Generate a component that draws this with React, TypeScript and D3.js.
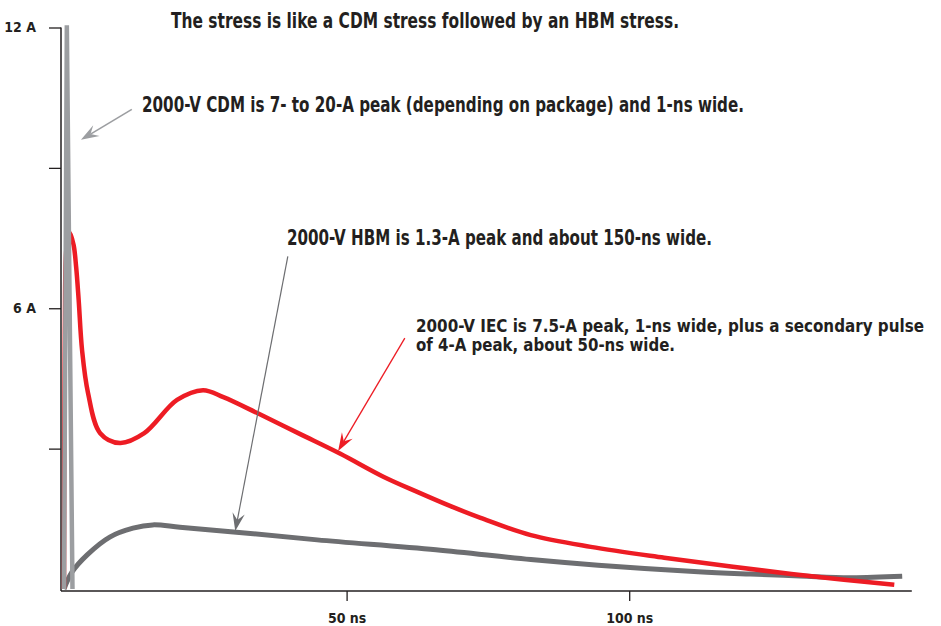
import React, { useEffect, useRef } from 'react';
import * as d3 from 'd3';

// IEC pulse (red), time in ns, current in A
const iecTime = [0, 0.15, 0.45, 1.0, 1.7, 2.15, 2.6, 3.2, 4.25, 6.4, 9.9, 14.2, 20, 24.6, 28.2, 34.2, 41.8, 48.9, 56.5, 62.6, 68.4, 73.7, 82.6, 93.2, 106.2, 118, 128.7, 138, 146.9];
const iecAmps = [0, 5.5, 7.3, 7.62, 7.35, 6.88, 6.17, 5.1, 4.19, 3.33, 3.12, 3.33, 4.04, 4.25, 4.1, 3.76, 3.31, 2.89, 2.4, 2.07, 1.77, 1.52, 1.15, 0.9, 0.67, 0.48, 0.32, 0.2, 0.09];

// HBM pulse (dark grey)
const hbmTime = [0, 1.4, 4.1, 8.1, 12.2, 15.7, 20.5, 30, 44.8, 65.8, 82.6, 94.5, 112.2, 121.4, 130.2, 139, 148.3];
const hbmAmps = [0, 0.36, 0.73, 1.11, 1.3, 1.37, 1.32, 1.22, 1.05, 0.84, 0.63, 0.51, 0.37, 0.32, 0.28, 0.24, 0.27];

// CDM spike (light grey)
const cdmTime = [0, 0.5, 1.5];
const cdmAmps = [0, 12.05, 0];

const yTicks = [3, 6, 9, 12];
const yTickLabels = ['', '6 A', '', '12 A'];
const xTicks = [50, 100];
const xTickLabels = ['50 ns', '100 ns'];

const title = 'The stress is like a CDM stress followed by an HBM stress.';
const cdmNote = '2000-V CDM is 7- to 20-A peak (depending on package) and 1-ns wide.';
const hbmNote = '2000-V HBM is 1.3-A peak and about 150-ns wide.';
const iecNote = ['2000-V IEC is 7.5-A peak, 1-ns wide, plus a secondary pulse', 'of 4-A peak, about 50-ns wide.'];

// arrows: [fromT, fromA, toT, toA]
const cdmArrow = [12.0, 10.25, 3.0, 9.6];
const hbmArrow = [39.6, 7.11, 30.3, 1.24];
const iecArrow = [60.3, 5.36, 48.5, 2.95];

const RED = '#ed1c24';
const DARK = '#6d6e71';
const LIGHT = '#9c9ea1';
const INK = '#231f20';
const FONT = '"Liberation Sans Narrow", "DejaVu Sans Condensed", "Roboto Condensed", "Arial Narrow", sans-serif';

export default function App() {
  const svgRef = useRef<SVGSVGElement>(null);

  useEffect(() => {
    const w = 941;
    const h = 626;
    const svg = d3.select(svgRef.current)
      .attr('width', w)
      .attr('height', h);
    svg.selectAll('*').remove();

    const x = d3.scaleLinear().domain([0, 150]).range([64, 911.8]);
    const y = d3.scaleLinear().domain([0, 12]).range([589, 27.5]);

    const axisX = 61;
    const axisY = 591;

    // axes
    const yAxis = d3.axisLeft(y)
      .tickValues(yTicks)
      .tickSize(12)
      .tickSizeOuter(0)
      .tickPadding(13)
      .tickFormat((d, i) => yTickLabels[i]);
    const gy = svg.append('g')
      .attr('transform', `translate(${axisX},0)`)
      .call(yAxis);
    gy.select('.domain').remove();

    const xAxis = d3.axisBottom(x)
      .tickValues(xTicks)
      .tickSize(10)
      .tickSizeOuter(0)
      .tickPadding(12)
      .tickFormat((d, i) => xTickLabels[i]);
    const gx = svg.append('g')
      .attr('transform', `translate(0,${axisY})`)
      .call(xAxis);
    gx.select('.domain').remove();

    [gx, gy].forEach(g => {
      g.selectAll('line').attr('stroke', INK).attr('stroke-width', 1.3);
      g.selectAll('text')
        .attr('fill', INK)
        .style('font-family', FONT)
        .style('font-weight', 'bold')
        .style('font-size', '14px');
    });

    svg.append('line')
      .attr('x1', axisX).attr('x2', axisX)
      .attr('y1', y(12)).attr('y2', axisY)
      .attr('stroke', INK).attr('stroke-width', 1.5);
    svg.append('line')
      .attr('x1', axisX).attr('x2', x(150))
      .attr('y1', axisY).attr('y2', axisY)
      .attr('stroke', INK).attr('stroke-width', 1.5);

    // curves
    const line = d3.line<[number, number]>()
      .x(d => x(d[0]))
      .y(d => y(d[1]))
      .curve(d3.curveCatmullRom.alpha(0.5));

    const zip = (ts: number[], as: number[]) => ts.map((t, i) => [t, as[i]] as [number, number]);

    svg.append('path')
      .attr('d', line(zip(hbmTime, hbmAmps)))
      .attr('fill', 'none')
      .attr('stroke', DARK)
      .attr('stroke-width', 5);

    svg.append('path')
      .attr('d', line(zip(iecTime, iecAmps)))
      .attr('fill', 'none')
      .attr('stroke', RED)
      .attr('stroke-width', 4.5);

    svg.append('path')
      .attr('d', d3.line<[number, number]>().x(d => x(d[0])).y(d => y(d[1]))(zip(cdmTime, cdmAmps)))
      .attr('fill', 'none')
      .attr('stroke', LIGHT)
      .attr('stroke-width', 4.5);

    // arrows
    const arrow = (a: number[], color: string, sw: number) => {
      const x0 = x(a[0]), y0 = y(a[1]), x1 = x(a[2]), y1 = y(a[3]);
      const len = Math.hypot(x1 - x0, y1 - y0);
      const ux = (x1 - x0) / len, uy = (y1 - y0) / len;
      const nx = -uy, ny = ux;
      const L = 18, W = 6.2;
      const bx = x1 - ux * L, by = y1 - uy * L;
      const kx = x1 - ux * L * 0.62, ky = y1 - uy * L * 0.62;
      svg.append('line')
        .attr('x1', x0).attr('y1', y0).attr('x2', kx).attr('y2', ky)
        .attr('stroke', color).attr('stroke-width', sw);
      svg.append('path')
        .attr('d', `M${x1},${y1}L${bx + nx * W},${by + ny * W}L${kx},${ky}L${bx - nx * W},${by - ny * W}Z`)
        .attr('fill', color);
    };
    arrow(cdmArrow, LIGHT, 1.6);
    arrow(hbmArrow, DARK, 1.2);
    arrow(iecArrow, RED, 1.3);

    // texts
    const note = (txt: string, tx: number, ty: number, len: number, size: number) => {
      svg.append('text')
        .attr('x', tx).attr('y', ty)
        .attr('textLength', len)
        .attr('lengthAdjust', 'spacingAndGlyphs')
        .attr('fill', INK)
        .style('font-family', FONT)
        .style('font-weight', 'bold')
        .style('font-size', `${size}px`)
        .text(txt);
    };
    note(title, 171, 28, 508, 21);
    note(cdmNote, 142, 111.5, 602, 21);
    note(hbmNote, 287, 245, 425, 21);
    note(iecNote[0], 416, 332, 508, 18);
    note(iecNote[1], 416, 351, 259, 18);
  }, []);

  return (
    <div className="App">
      <svg ref={svgRef} style={{ position: 'absolute', left: 0, top: 0, display: 'block', background: '#fff' }}></svg>
    </div>
  );
}
